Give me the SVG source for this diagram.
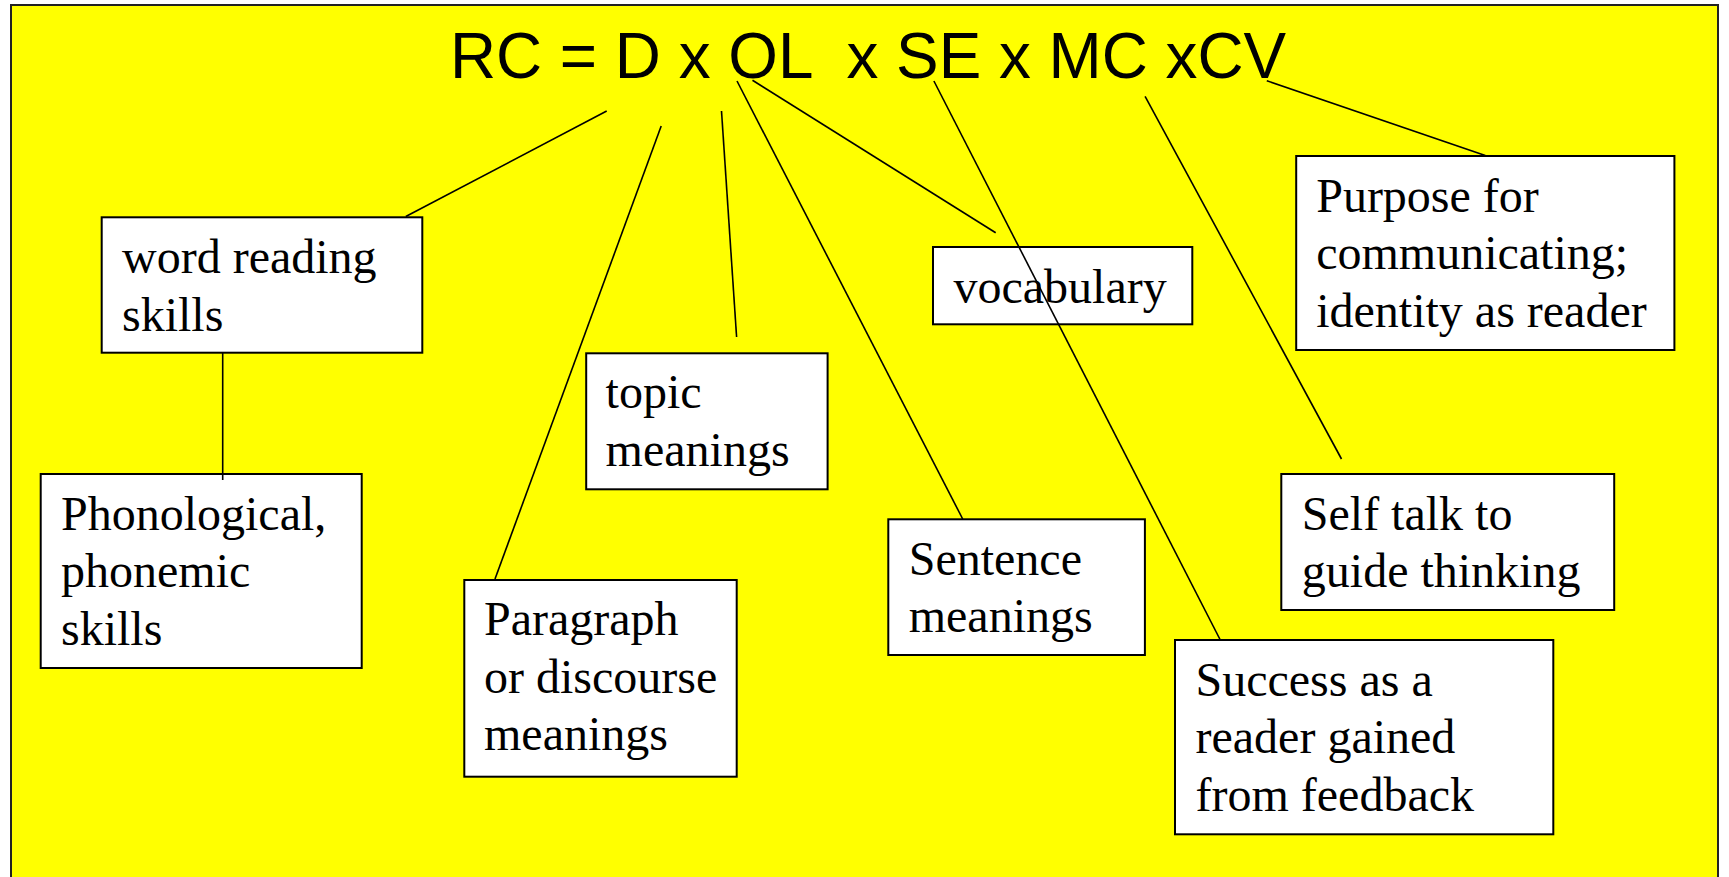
<svg xmlns="http://www.w3.org/2000/svg" width="1729" height="877" viewBox="0 0 1729 877">
<style>
.box{fill:#ffffff;stroke:#000000;stroke-width:2}
.lbl{font-family:"Liberation Serif","Times New Roman",serif;font-size:48px;fill:#000000}
.conn{stroke:#000000;stroke-width:1.6;fill:none}
.title{font-family:"Liberation Sans",Arial,sans-serif;font-size:64px;fill:#000000}
</style>
<rect x="0" y="0" width="1729" height="877" fill="#ffffff"/>
<rect x="11" y="5" width="1707" height="890" fill="#ffff00" stroke="#222222" stroke-width="2"/>
<g id="title">
<text class="title" x="450" y="78" textLength="836" lengthAdjust="spacingAndGlyphs" xml:space="preserve">RC = D x OL  x SE x MC xCV</text>
</g>
<g id="word-reading">
<rect class="box" x="101.7" y="217.3" width="320.6" height="135.4"/>
<text class="lbl" x="122" y="273.3">word reading</text>
<text class="lbl" x="122" y="330.5">skills</text>
</g>
<g id="phonological">
<rect class="box" x="40.7" y="474" width="321" height="194"/>
<text class="lbl" x="61" y="530">Phonological,</text>
<text class="lbl" x="61" y="587">phonemic</text>
<text class="lbl" x="61" y="644.5">skills</text>
</g>
<g id="paragraph">
<rect class="box" x="464.3" y="580" width="272.4" height="196.7"/>
<text class="lbl" x="484" y="635">Paragraph</text>
<text class="lbl" x="484" y="692.5">or discourse</text>
<text class="lbl" x="484" y="750">meanings</text>
</g>
<g id="topic">
<rect class="box" x="586.2" y="353.3" width="241.4" height="136"/>
<text class="lbl" x="605.6" y="408.3">topic</text>
<text class="lbl" x="605.6" y="465.7">meanings</text>
</g>
<g id="sentence">
<rect class="box" x="888.3" y="519.3" width="256.6" height="135.7"/>
<text class="lbl" x="908.7" y="575">Sentence</text>
<text class="lbl" x="908.7" y="631.7">meanings</text>
</g>
<g id="vocabulary">
<rect class="box" x="933" y="247" width="259.3" height="77.3"/>
<text class="lbl" x="953.5" y="303">vocabulary</text>
</g>
<g id="success">
<rect class="box" x="1175" y="640" width="378.3" height="194.3"/>
<text class="lbl" x="1195.5" y="696">Success as a</text>
<text class="lbl" x="1195.5" y="753.3">reader gained</text>
<text class="lbl" x="1195.5" y="810.7">from feedback</text>
</g>
<g id="self-talk">
<rect class="box" x="1281.3" y="474" width="332.9" height="136"/>
<text class="lbl" x="1301.8" y="530">Self talk to</text>
<text class="lbl" x="1301.8" y="586.7">guide thinking</text>
</g>
<g id="purpose">
<rect class="box" x="1296.2" y="156" width="378.2" height="194"/>
<text class="lbl" x="1316.2" y="212.3">Purpose for</text>
<text class="lbl" x="1316.2" y="269.3">communicating;</text>
<text class="lbl" x="1316.2" y="326.7">identity as reader</text>
</g>
<g id="connectors">
<line class="conn" x1="606.7" y1="111" x2="405.8" y2="216.5"/>
<line class="conn" x1="661.2" y1="126" x2="495" y2="579"/>
<line class="conn" x1="721.5" y1="111" x2="736.6" y2="337"/>
<line class="conn" x1="737" y1="81" x2="962.7" y2="519"/>
<line class="conn" x1="752.5" y1="80.3" x2="995.7" y2="232.7"/>
<line class="conn" x1="933.9" y1="81" x2="1220.3" y2="640"/>
<line class="conn" x1="1145.1" y1="96.3" x2="1341.5" y2="459"/>
<line class="conn" x1="1266.8" y1="80.7" x2="1485.3" y2="155.5"/>
<line class="conn" x1="222.7" y1="353" x2="222.7" y2="480"/>
</g>
</svg>
